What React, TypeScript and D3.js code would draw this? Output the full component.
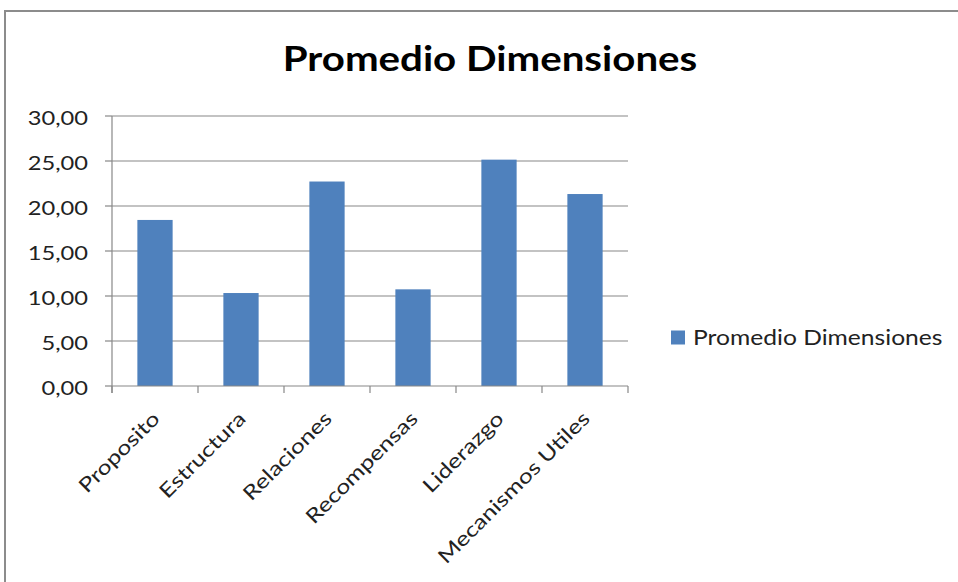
import React, { useEffect, useRef } from "react";
import * as d3 from "d3";

const categories = ["Proposito", "Estructura", "Relaciones", "Recompensas", "Liderazgo", "Mecanismos Utiles"];
const values = [18.45, 10.33, 22.72, 10.74, 25.15, 21.33];
const yTicks = [0, 5, 10, 15, 20, 25, 30];
const seriesName = "Promedio Dimensiones";
const title = "Promedio Dimensiones";

const W = 958, H = 582;
const FONT = "Lato, 'Open Sans', sans-serif";

export default function App() {
  const ref = useRef<SVGSVGElement>(null);
  useEffect(() => {
    document.body.style.margin = "0";
    const svg = d3.select(ref.current);
    svg.selectAll("*").remove();

    svg.append("rect").attr("x", 0).attr("y", 0).attr("width", W).attr("height", H).attr("fill", "#fff");
    // chart border
    svg.append("path").attr("d", `M5,${H + 5} L5,11 L${W + 5},11`).attr("fill", "none").attr("stroke", "#8c8c8c").attr("stroke-width", 2);

    const left = 112, right = 628, top = 116, bottom = 386;
    const x = d3.scaleBand().domain(categories).range([left, right]).paddingInner(0.59).paddingOuter(0.295);
    const y = d3.scaleLinear().domain([0, 30]).range([bottom, top]);

    svg.append("text").attr("transform", "translate(490,71) scale(1.15,1)").attr("text-anchor", "middle")
      .attr("font-family", FONT).attr("font-weight", "bold").attr("font-size", 35).attr("fill", "#000").text(title);

    const g = svg.append("g");
    // gridlines
    g.selectAll("line.grid").data(yTicks.filter(t => t > 0)).enter().append("line")
      .attr("x1", left).attr("x2", right).attr("y1", d => y(d)).attr("y2", d => y(d))
      .attr("stroke", "#888").attr("stroke-width", 1.2);

    // bars
    g.selectAll("rect.bar").data(values).enter().append("rect")
      .attr("x", (d, i) => x(categories[i])!).attr("width", x.bandwidth())
      .attr("y", d => y(d)).attr("height", d => y(0) - y(d)).attr("fill", "#4F81BD");

    // y axis
    g.append("line").attr("x1", left).attr("x2", left).attr("y1", top).attr("y2", bottom + 7).attr("stroke", "#888").attr("stroke-width", 1.2);
    g.selectAll("line.ytick").data(yTicks).enter().append("line")
      .attr("x1", left - 7).attr("x2", left).attr("y1", d => y(d)).attr("y2", d => y(d)).attr("stroke", "#888").attr("stroke-width", 1.2);
    g.selectAll("text.ylab").data(yTicks).enter().append("text")
      .attr("transform", d => `translate(88,${y(d) + 9}) scale(1.28,1)`).attr("text-anchor", "end")
      .attr("font-family", FONT).attr("font-size", 18.5).attr("fill", "#222")
      .text(d => d3.format(".2f")(d).replace(".", ","));

    // x axis
    g.append("line").attr("x1", left).attr("x2", right).attr("y1", bottom).attr("y2", bottom).attr("stroke", "#888").attr("stroke-width", 1.2);
    const step = x.step();
    g.selectAll("line.xtick").data(d3.range(categories.length + 1)).enter().append("line")
      .attr("x1", i => left + i * step).attr("x2", i => left + i * step).attr("y1", bottom).attr("y2", bottom + 7)
      .attr("stroke", "#888").attr("stroke-width", 1.2);
    g.selectAll("text.xlab").data(categories).enter().append("text")
      .attr("transform", d => `translate(${x(d)! + x.bandwidth() / 2 + 6},${bottom + 34}) rotate(-45) scale(1.24,1)`)
      .attr("text-anchor", "end")
      .attr("font-family", FONT).attr("font-size", 20).attr("fill", "#222").text(d => d);

    // legend
    svg.append("rect").attr("x", 671).attr("y", 330.5).attr("width", 14).attr("height", 14).attr("fill", "#4F81BD");
    svg.append("text").attr("transform", "translate(693,345) scale(1.12,1)").attr("font-family", FONT).attr("font-size", 22).attr("fill", "#222").text(seriesName);
  }, []);
  return (
    <div style={{ position: "absolute", left: 0, top: 0 }}>
      <svg ref={ref} width={W} height={H} />
    </div>
  );
}
